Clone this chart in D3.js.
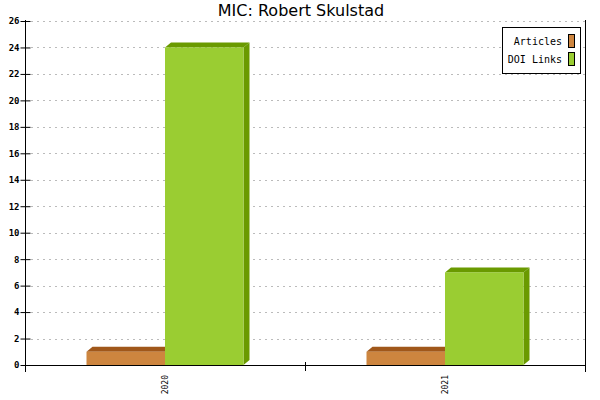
<!DOCTYPE html>
<html><head><meta charset="utf-8">
<script src="https://cdn.jsdelivr.net/npm/d3@7"></script>
<style>body{margin:0;background:#fff}svg{display:block}</style>
</head><body>
<script>
const categories = ["2020", "2021"];
const seriesNames = ["Articles", "DOI Links"];
const articles = [1, 1];
const doiLinks = [24, 7];
const yTicks = [0,2,4,6,8,10,12,14,16,18,20,22,24,26];
const colors = {"Articles": {front:"#cd853f", dark:"#a0571a"}, "DOI Links": {front:"#9acd32", dark:"#6a9a00"}};

(function () {
const W = 600, H = 400;
const svg = d3.select("body").append("svg").attr("width", W).attr("height", H);
const pLeft = 25, pRight = 585, pTop = 21, pBottom = 365;

svg.append("text").attr("x", 301).attr("y", 16).attr("text-anchor", "middle")
  .attr("font-family", "DejaVu Sans").attr("font-size", 16).attr("fill", "#000")
  .text("MIC: Robert Skulstad");

const y = d3.scaleLinear().domain([0, 26]).range([pBottom, pTop]);
const x0 = d3.scaleBand().domain(categories).range([pLeft, pRight]).padding(0);
const groupW = 157;
const x1 = d3.scaleBand().domain(seriesNames).range([0, groupW]).padding(0);
const offset = (x0.bandwidth() - groupW) / 2;

// grid
svg.append("g").selectAll("line").data(yTicks.filter(d => d > 0)).join("line")
  .attr("x1", pLeft + 6).attr("x2", pRight).attr("y1", d => Math.round(y(d)) + 0.5).attr("y2", d => Math.round(y(d)) + 0.5)
  .attr("stroke", "#bbb").attr("stroke-dasharray", "2,4").attr("stroke-width", 1);

// bars
const data = [];
categories.forEach((c, i) => {
  data.push({cat: c, s: "Articles", v: articles[i]});
  data.push({cat: c, s: "DOI Links", v: doiLinks[i]});
});
const dx = 6, dy = 5;
const g = svg.append("g");
data.forEach(d => {
  const xa = x0(d.cat) + offset + x1(d.s);
  const xb = xa + x1.bandwidth();
  const yt = y(d.v), yb = y(0);
  const col = colors[d.s];
  g.append("polygon").attr("points", [[xb, yt], [xb + dx, yt - dy], [xb + dx, yb - dy], [xb, yb]].join(" ")).attr("fill", col.dark);
  g.append("polygon").attr("points", [[xa, yt], [xa + dx, yt - dy], [xb + dx, yt - dy], [xb, yt]].join(" ")).attr("fill", col.dark);
  g.append("rect").attr("x", xa).attr("y", yt).attr("width", xb - xa).attr("height", yb - yt).attr("fill", col.front);
});

// y axis
const ya = svg.append("g").attr("transform", `translate(${pLeft + 0.5},0)`)
  .call(d3.axisLeft(y).tickValues(yTicks).tickSize(0).tickPadding(6));
ya.select(".domain").remove();
ya.selectAll(".tick line").remove();
ya.selectAll(".tick").append("line").attr("x1", -5).attr("x2", 5).attr("stroke", "#000");
ya.selectAll("text").attr("font-family", "DejaVu Sans Mono").attr("font-size", 9).attr("font-weight", "bold").attr("fill", "#000");
svg.append("line").attr("x1", pLeft + 0.5).attr("x2", pLeft + 0.5).attr("y1", pTop - 1).attr("y2", pBottom + 7).attr("stroke", "#000");
svg.append("line").attr("x1", pRight + 0.5).attr("x2", pRight + 0.5).attr("y1", pTop - 1).attr("y2", pBottom + 7).attr("stroke", "#000");

// x axis
svg.append("line").attr("x1", pLeft).attr("x2", pRight + 1).attr("y1", pBottom + 0.5).attr("y2", pBottom + 0.5).attr("stroke", "#000");
svg.append("line").attr("x1", x0("2021") + 0.5).attr("x2", x0("2021") + 0.5).attr("y1", pBottom - 3).attr("y2", pBottom + 6).attr("stroke", "#000");
svg.append("g").selectAll("text").data(categories).join("text")
  .attr("transform", d => `translate(${x0(d) + x0.bandwidth() / 2 + 3},${pBottom + 10}) rotate(-90)`)
  .attr("text-anchor", "end").attr("font-family", "DejaVu Sans Mono").attr("font-size", 8).attr("fill", "#000")
  .text(d => d);

// legend
const lg = svg.append("g");
lg.append("rect").attr("x", 502.5).attr("y", 27.5).attr("width", 78).attr("height", 46).attr("fill", "#fff").attr("stroke", "#000");
seriesNames.forEach((s, i) => {
  const yy = 34 + i * 18;
  lg.append("rect").attr("x", 568.5).attr("y", yy + 0.5).attr("width", 6).attr("height", 13).attr("fill", colors[s].front).attr("stroke", "#000");
  lg.append("text").attr("x", 562).attr("y", yy + 11).attr("text-anchor", "end")
    .attr("font-family", "DejaVu Sans Mono").attr("font-size", 10).attr("fill", "#000").text(s);
});
})();
</script>
</body></html>
